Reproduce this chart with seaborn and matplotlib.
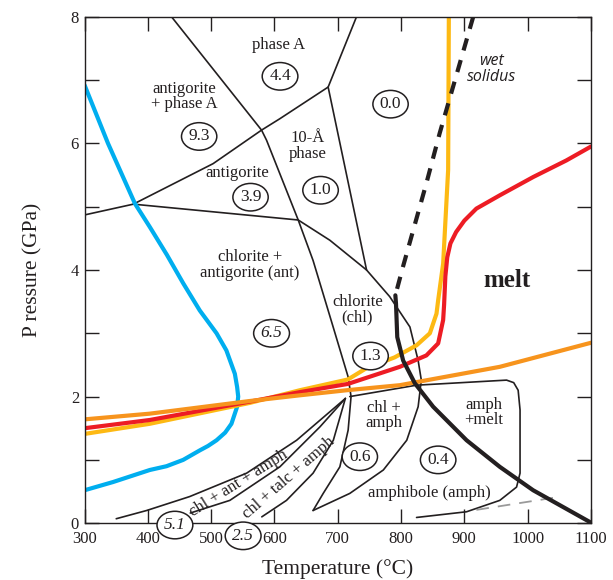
import matplotlib
matplotlib.use("Agg")
import matplotlib.pyplot as plt
import seaborn as sns

# ---- data (temperature in deg C, pressure in GPa) ----
blue_T = [300, 337, 379.5, 403, 430, 455.8, 482, 508.5, 524, 537.4, 541, 542.7, 541, 532, 522, 508.5, 495, 482, 455.8, 429.5, 403, 345, 300]
blue_P = [6.92, 6.0, 5.05, 4.68, 4.24, 3.79, 3.36, 3.0, 2.73, 2.36, 2.15, 2.0, 1.84, 1.57, 1.43, 1.31, 1.22, 1.15, 1.0, 0.9, 0.84, 0.65, 0.52]

yellow_T = [300, 403, 561, 640, 716, 745.5, 790, 824.5, 845.5, 856, 858.6, 866.5, 874.4, 875.5]
yellow_P = [1.41, 1.57, 1.90, 2.10, 2.27, 2.45, 2.62, 2.81, 3.0, 3.31, 3.52, 4.1, 5.58, 8.0]

red_T = [300, 403, 561, 640, 716, 798, 840, 858.6, 866.5, 868, 870, 873, 878, 887, 900, 919, 956, 1009, 1061, 1100]
red_P = [1.50, 1.63, 1.92, 2.07, 2.20, 2.47, 2.65, 2.84, 3.21, 3.45, 3.9, 4.2, 4.42, 4.6, 4.78, 4.97, 5.18, 5.47, 5.73, 5.95]

orange_T = [300, 403, 561, 640, 714, 798, 956, 1100]
orange_P = [1.64, 1.73, 1.93, 2.02, 2.10, 2.18, 2.47, 2.85]

wet_solidus_T = [914, 861, 840, 803, 791]
wet_solidus_P = [8.0, 6.16, 5.37, 4.05, 3.6]

dry_solidus_T = [791, 792, 794, 803.3, 821.8, 850.7, 903.5, 956, 1008.7, 1098]
dry_solidus_P = [3.6, 3.47, 2.94, 2.57, 2.21, 1.84, 1.31, 0.89, 0.52, 0.02]

grey_T = [919, 1040]
grey_P = [0.21, 0.40]

# phase boundaries (thin black)
bnd_a_T = [437.4, 579.6, 587.5, 637.5, 661, 692.7, 716.4, 721, 716.4, 703.3, 677, 661]
bnd_a_P = [8.0, 6.21, 6.05, 4.79, 4.15, 3.1, 2.31, 2.0, 1.47, 0.89, 0.47, 0.2]
bnd_b_T = [300, 377, 637.5, 687.5, 745.5, 782, 814, 827, 832, 827, 809, 772, 719, 661]
bnd_b_P = [4.87, 5.04, 4.79, 4.47, 4.0, 3.58, 3.1, 2.57, 2.26, 1.84, 1.31, 0.84, 0.47, 0.2]
bnd_c_T = [377, 503, 579.6, 608.5, 684.8]
bnd_c_P = [5.04, 5.68, 6.21, 6.39, 6.89]
bnd_d_T = [729.6, 684.8, 745.5]
bnd_d_P = [8.0, 6.89, 4.0]
bnd_e_T = [350, 398, 466, 556, 635, 712]
bnd_e_P = [0.07, 0.2, 0.42, 0.79, 1.31, 1.97]
bnd_f_T = [467, 529.5, 608.5, 671.7, 712]
bnd_f_P = [0.16, 0.36, 0.89, 1.52, 1.97]
bnd_g_T = [580, 619, 661, 693, 712]
bnd_g_P = [0.1, 0.36, 0.79, 1.31, 1.97]
amph_T = [719, 824.5, 966.7, 978, 985, 988, 988, 982.5, 956, 903.5, 824.5]
amph_P = [2.0, 2.18, 2.26, 2.22, 2.1, 1.79, 0.79, 0.57, 0.36, 0.18, 0.09]

# region labels
region_text = ["phase A", "antigorite\n+ phase A", "10-Å\nphase", "antigorite",
               "chlorite +\nantigorite (ant)", "chlorite\n(chl)", "chl +\namph",
               "amph\n+melt", "amphibole (amph)"]
region_T = [607, 457, 652, 541, 561, 731, 773, 931, 845.5]
region_P = [7.55, 6.74, 5.96, 5.53, 4.08, 3.38, 1.70, 1.75, 0.47]

# circled numbers
circ_text = ["4.4", "9.3", "3.9", "1.0", "0.0", "6.5", "1.3", "0.6", "0.4", "5.1", "2.5"]
circ_T = [608.8, 481, 562.2, 672.8, 783.4, 595.4, 751.8, 734.9, 858.6, 442.7, 550.5]
circ_P = [7.06, 6.11, 5.15, 5.26, 6.62, 3.0, 2.64, 1.05, 1.0, -0.03, -0.2]
circ_italic = [False, False, False, False, False, True, False, False, False, True, True]

x_ticks = [300, 400, 500, 600, 700, 800, 900, 1000, 1100]
y_ticks = [0, 2, 4, 6, 8]

sns.set_theme(style="ticks")
plt.rcParams['font.family'] = ['Liberation Serif', 'DejaVu Serif']

fig, ax = plt.subplots(figsize=(6.13, 5.80), dpi=100)
fig.subplots_adjust(left=0.138, right=0.964, bottom=0.098, top=0.971)


def curve(T, P, **kw):
    sns.lineplot(x=T, y=P, sort=False, estimator=None, ax=ax, **kw)


# thin black phase boundaries
for T, P in [(bnd_a_T, bnd_a_P), (bnd_b_T, bnd_b_P), (bnd_c_T, bnd_c_P), (bnd_d_T, bnd_d_P),
             (bnd_e_T, bnd_e_P), (bnd_f_T, bnd_f_P), (bnd_g_T, bnd_g_P), (amph_T, amph_P)]:
    curve(T, P, color='#231F20', linewidth=1.2)

curve(grey_T, grey_P, color='#9a9a9a', linewidth=1.3, linestyle=(0, (7, 5)))

# coloured lines
curve(blue_T, blue_P, color='#00AEEF', linewidth=3)
curve(yellow_T, yellow_P, color='#FDB913', linewidth=3)
curve(red_T, red_P, color='#ED1C24', linewidth=3)
curve(orange_T, orange_P, color='#F7941D', linewidth=3)

# solidi
curve(dry_solidus_T, dry_solidus_P, color='#231F20', linewidth=3)
curve(wet_solidus_T, wet_solidus_P, color='#231F20', linewidth=3, linestyle=(0, (3.0, 2.4)))

for txt, T, P in zip(region_text, region_T, region_P):
    ax.text(T, P, txt, ha='center', va='center', fontsize=12, linespacing=0.95, color='#231F20')

for txt, T, P, it in zip(circ_text, circ_T, circ_P, circ_italic):
    ax.text(T, P, txt, ha='center', va='center', fontsize=12.5, color='#231F20',
            style='italic' if it else 'normal', clip_on=False, zorder=5,
            bbox=dict(boxstyle='ellipse,pad=0.1', facecolor='white', edgecolor='#231F20', linewidth=1.1))

ax.text(542.7, 0.63, "chl + ant + amph", rotation=32, rotation_mode='anchor',
        ha='center', va='center', fontsize=12, color='#231F20')
ax.text(622.7, 0.71, "chl + talc + amph", rotation=41, rotation_mode='anchor',
        ha='center', va='center', fontsize=12, color='#231F20')
ax.text(967, 3.84, "melt", ha='center', va='center', fontsize=18, fontweight='bold', color='#231F20')
ax.text(943, 7.17, "wet\nsolidus", ha='center', va='center', fontsize=11.5, style='italic',
        family=['Open Sans', 'DejaVu Sans'], color='#231F20', linespacing=1.0)

ax.set_xlim(300, 1100)
ax.set_ylim(0, 8)
ax.set_xticks(x_ticks)
ax.set_yticks(y_ticks)
ax.set_yticks([1, 3, 5, 7], minor=True)
ax.tick_params(which='both', direction='in', length=10, width=1, top=True, right=True,
               labelsize=12, pad=4, colors='#231F20')
ax.tick_params(axis='x', pad=6)
for s in ax.spines.values():
    s.set_linewidth(1)
    s.set_color('#231F20')
ax.set_xlabel("Temperature (°C)", fontsize=15.5, color='#231F20', labelpad=8)
ax.set_ylabel("P ressure (GPa)", fontsize=15.5, color='#231F20', labelpad=20)

fig.savefig("out.png", dpi=100)
